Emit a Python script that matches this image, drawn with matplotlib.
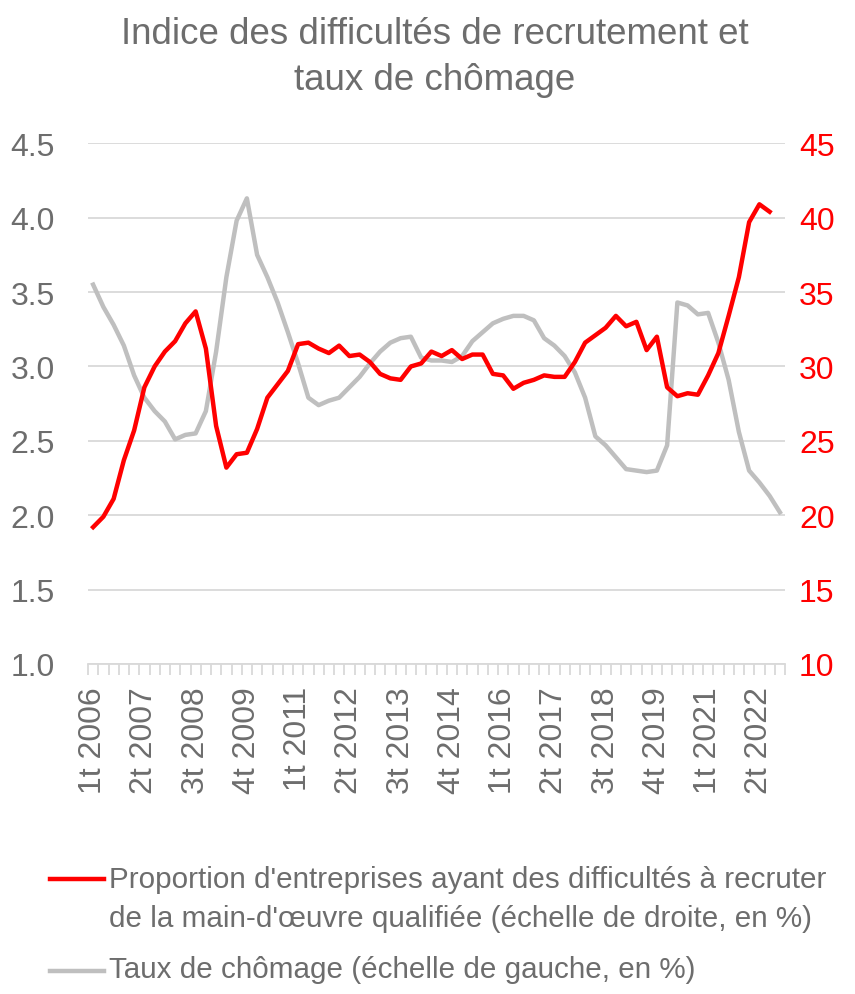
import matplotlib
matplotlib.use("Agg")
import matplotlib.pyplot as plt
from matplotlib.lines import Line2D
from matplotlib import font_manager

names = {f.name for f in font_manager.fontManager.ttflist}
FAM = [f for f in ["Liberation Sans Narrow", "Liberation Sans", "DejaVu Sans"] if f in names]
plt.rcParams['font.family'] = FAM

# Quarters 1t 2006 .. 4t 2022
years = list(range(2006, 2023))
quarters = [f"{q}t {y}" for y in years for q in (1, 2, 3, 4)]

# Unemployment rate (left axis, %)
chomage = [3.55, 3.40, 3.28, 3.14, 2.94, 2.79, 2.70, 2.63, 2.51, 2.54,
           2.55, 2.70, 3.10, 3.60, 3.98, 4.13, 3.75, 3.60, 3.43, 3.23,
           3.02, 2.79, 2.74, 2.77, 2.79, 2.86, 2.93, 3.02, 3.10, 3.16,
           3.19, 3.20, 3.06, 3.04, 3.04, 3.03, 3.07, 3.17, 3.23, 3.29,
           3.32, 3.34, 3.34, 3.31, 3.19, 3.14, 3.07, 2.96, 2.79, 2.53,
           2.47, 2.39, 2.31, 2.30, 2.29, 2.30, 2.47, 3.43, 3.41, 3.35,
           3.36, 3.16, 2.91, 2.56, 2.30, 2.22, 2.13, 2.02]

# Share of firms with recruitment difficulties (right axis, %)
difficultes = [19.2, 19.9, 21.1, 23.7, 25.7, 28.6, 30.0, 31.0, 31.7, 32.9,
               33.7, 31.2, 26.0, 23.2, 24.1, 24.2, 25.8, 27.9, 28.8, 29.7,
               31.5, 31.6, 31.2, 30.9, 31.4, 30.7, 30.8, 30.3, 29.5, 29.2,
               29.1, 30.0, 30.2, 31.0, 30.7, 31.1, 30.5, 30.8, 30.8, 29.5,
               29.4, 28.5, 28.9, 29.1, 29.4, 29.3, 29.3, 30.3, 31.6, 32.1,
               32.6, 33.4, 32.7, 33.0, 31.1, 32.0, 28.6, 28.0, 28.2, 28.1,
               29.4, 30.9, 33.4, 36.0, 39.7, 40.9, 40.4]

left_ticks = [1.0, 1.5, 2.0, 2.5, 3.0, 3.5, 4.0, 4.5]
right_ticks = [10, 15, 20, 25, 30, 35, 40, 45]

title = "Indice des difficultés de recrutement et\ntaux de chômage"
label_red = "Proportion d'entreprises ayant des difficultés à recruter\nde la main-d'œuvre qualifiée (échelle de droite, en %)"
label_gray = "Taux de chômage (échelle de gauche, en %)"

TXT = "#6d6d6d"
GRID = "#d9d9d9"
RED = "#ff0000"
GRAY = "#bfbfbf"

fig = plt.figure(figsize=(8.55, 9.95), dpi=100)
ax = fig.add_axes([88/855, 1 - 665/995, (785 - 88)/855, (665 - 144.3)/995])
ax2 = ax.twinx()

x = list(range(len(quarters)))
ax.plot(x, chomage, color=GRAY, lw=3.2, solid_joinstyle='round', zorder=3)
ax2.plot(x[:len(difficultes)], difficultes, color=RED, lw=3.2,
         solid_joinstyle='round', zorder=4)

ax.set_xlim(-0.5, len(quarters) - 0.5)
ax.set_ylim(1.0, 4.5)
ax2.set_ylim(10, 45)
ax.set_yticks(left_ticks)
ax.set_yticklabels([f"{v:.1f}" for v in left_ticks])
ax2.set_yticks(right_ticks)
ax2.set_yticklabels([str(v) for v in right_ticks])

for a in (ax, ax2):
    for s in a.spines.values():
        s.set_visible(False)
ax.spines['bottom'].set_visible(True)
ax.spines['bottom'].set_color(GRID)
ax.spines['bottom'].set_linewidth(1.3)

ax.grid(axis='y', color=GRID, lw=1.3)
ax.set_axisbelow(True)

ax.tick_params(axis='y', length=0, labelsize=23, labelcolor=TXT, pad=24)
ax2.tick_params(axis='y', length=0, labelsize=23, labelcolor=RED, pad=10)

# x ticks: minor boundaries, major labels every 5 quarters
ax.set_xticks([i - 0.5 for i in range(len(quarters) + 1)], minor=True)
ax.set_xticks(list(range(0, len(quarters), 5)))
ax.set_xticklabels([quarters[i] for i in range(0, len(quarters), 5)],
                   rotation=90, fontsize=23, color=TXT)
ax.tick_params(axis='x', which='major', length=0, pad=16)
ax.tick_params(axis='x', which='minor', length=8, color=GRID, width=1.3)

fig.text(0.508, 0.983, title, ha='center', va='top', fontsize=26.5,
         color=TXT, linespacing=1.42)

# legend
def fy(py):
    return 1 - py / 995

fig.add_artist(Line2D([50/855, 104/855], [fy(880), fy(880)], color=RED, lw=3.2))
fig.text(109/855, fy(866), label_red, ha='left', va='top', fontsize=21.3,
         color=TXT, linespacing=1.5)
fig.add_artist(Line2D([50/855, 104/855], [fy(972), fy(972)], color=GRAY, lw=3.2))
fig.text(109/855, fy(970), label_gray, ha='left', va='center', fontsize=21.3,
         color=TXT)

fig.savefig("out.png", dpi=100)
